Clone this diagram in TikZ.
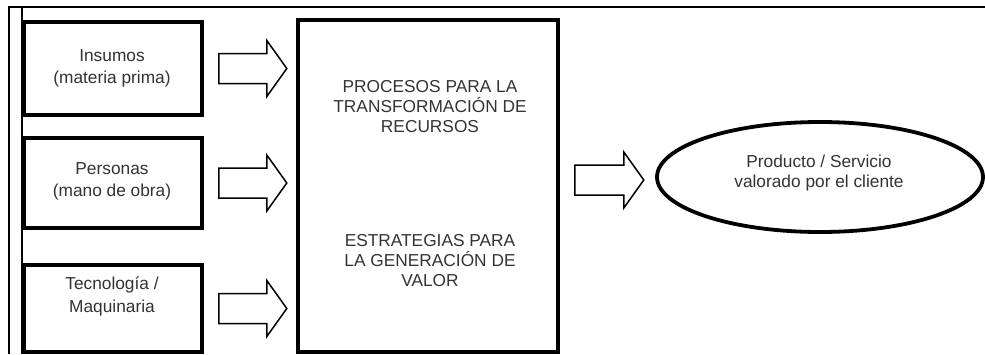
\documentclass[tikz,border=0pt]{standalone}
\usepackage{fontspec}
\setmainfont{Liberation Sans}
\usetikzlibrary{calc,shapes.geometric}
\definecolor{txtc}{HTML}{333333}
\newcommand\blockarrow[2]{%
  \draw[barrow] ($(#1)+(0,15)$) -- ($(#2)+(-20,15)$) -- ($(#2)+(-20,28)$) -- (#2)
    -- ($(#2)+(-20,-28)$) -- ($(#2)+(-20,-15)$) -- ($(#1)+(0,-15)$) -- cycle;}
\begin{document}
\begin{tikzpicture}[x=1pt,y=1pt,
  inbox/.style={draw=black,line width=3.6,minimum width=178,inner sep=0},
  bigbox/.style={draw=black,line width=3.6,minimum width=260,minimum height=332,inner sep=0},
  oval/.style={draw=black,ellipse,line width=3.8,minimum width=326,minimum height=110,inner sep=0},
  lbl/.style={text=txtc,align=center,font=\fontsize{17.3}{22.5}\selectfont,inner sep=0},
  biglbl/.style={text=txtc,align=center,font=\fontsize{17.3}{20}\selectfont,inner sep=0},
  barrow/.style={draw=black,fill=white,line width=1.5,line join=miter},
  frame/.style={draw=black,line width=1.6}]
\useasboundingbox (0,0) rectangle (985,-354);
\fill[white] (0,0) rectangle (985,-354);
% frame
\coordinate (fbl) at (9,-354);
\coordinate (ftl) at (9,-7);
\coordinate (ftr) at (985,-7);
\coordinate (itl) at (22,-7);
\coordinate (ibl) at (22,-354);
\draw[frame] (fbl) -- (ftl) -- (ftr);
\draw[frame] (itl) -- (ibl);
% input boxes
\node[inbox,minimum height=93] (b1) at (113,-68.5) {};
\node[inbox,minimum height=90] (b2) at (113,-183) {};
\node[inbox,minimum height=87] (b3) at (113,-308.5) {};
\node[lbl] (t1) at (112,-68.5) {Insumos\\(materia prima)};
\node[lbl] (t2) at (112,-181.5) {Personas\\(mano de obra)};
\node[lbl] (t3) at (112,-296.5) {Tecnología /\\Maquinaria};
% central box
\node[bigbox] (big) at (428,-186) {};
\node[biglbl] (p1) at (430,-107) {PROCESOS PARA LA\\TRANSFORMACIÓN DE\\RECURSOS};
\node[biglbl] (p2) at (430,-261) {ESTRATEGIAS PARA\\LA GENERACIÓN DE\\VALOR};
% output
\node[oval] (out) at (820,-177) {};
\node[lbl,font=\fontsize{17.3}{20}\selectfont] (ot) at (819,-173) {Producto / Servicio\\valorado por el cliente};
% arrows
\coordinate (a1s) at ($(b1.east)+(15,0)$);
\coordinate (a1e) at ($(b1.east)+(83,0)$);
\coordinate (a2s) at ($(b2.east)+(15,0)$);
\coordinate (a2e) at ($(b2.east)+(83,0)$);
\coordinate (a3s) at ($(b3.east)+(15,0)$);
\coordinate (a3e) at ($(b3.east)+(83,0)$);
\coordinate (a4s) at ($(big.east |- 0,-180)+(15,0)$);
\coordinate (a4e) at ($(big.east |- 0,-180)+(84,0)$);
\blockarrow{a1s}{a1e}
\blockarrow{a2s}{a2e}
\blockarrow{a3s}{a3e}
\blockarrow{a4s}{a4e}
\end{tikzpicture}
\end{document}
